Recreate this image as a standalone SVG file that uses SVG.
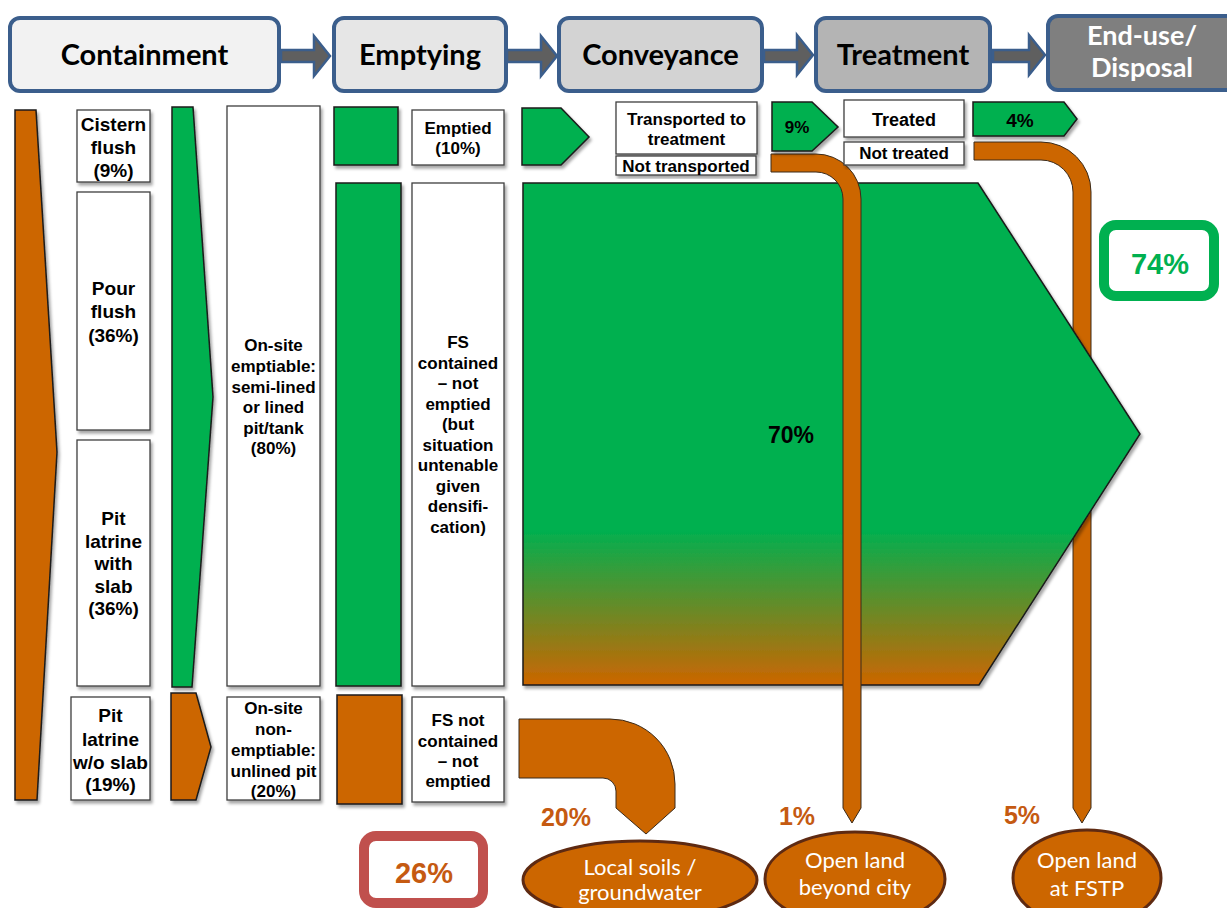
<svg xmlns="http://www.w3.org/2000/svg" width="1227" height="908" viewBox="0 0 1227 908">
<defs>
<filter id="sh" x="-10%" y="-10%" width="130%" height="130%"><feDropShadow dx="2" dy="3" stdDeviation="1.5" flood-color="#000" flood-opacity="0.35"/></filter>
<linearGradient id="grad" x1="0" y1="0" x2="0" y2="1"><stop offset="0.69" stop-color="#00B050"/><stop offset="1" stop-color="#CC6600"/></linearGradient>
</defs>
<style>
.hdr{stroke:#3B5E8C;stroke-width:4}
.ht{font-family:Lato,'Open Sans',sans-serif;font-weight:bold;font-size:29px;text-anchor:middle;fill:#000}
.ht2{font-family:Lato,'Open Sans',sans-serif;font-weight:bold;font-size:27px;text-anchor:middle;fill:#fff}
.harr{fill:#5F5F5F;stroke:#3B5E8C;stroke-width:2.5}
.box{fill:#fff;stroke:#3F3F3F;stroke-width:1.3}
.g{fill:#00B050;stroke:#1a1a1a;stroke-width:1.5}
.o{fill:#CC6600;stroke:#1a1a1a;stroke-width:1.5}
.t{font-family:'Liberation Sans',Arial,sans-serif;font-weight:bold;text-anchor:middle;fill:#000}
.s19{font-size:19px}
.s17{font-size:17px}
.pipe{fill:#CC6600;stroke:#3a2a1a;stroke-width:1}
.pct{font-family:'Liberation Sans',Arial,sans-serif;font-weight:bold;font-size:25px;fill:#C55A11;text-anchor:middle}
.ell{fill:#CC6600;stroke:#5E2A12;stroke-width:3}
.et{font-family:Lato,'Open Sans',sans-serif;font-size:22px;fill:#fff;text-anchor:middle}
</style>

<!-- Header -->
<g id="h-containment"><rect class="hdr" x="10" y="18" width="269" height="73" rx="10" fill="#F2F2F2"/><text class="ht" x="144.5" y="65">Containment</text></g>
<g id="h-emptying"><rect class="hdr" x="334" y="18" width="172" height="73" rx="10" fill="#E6E6E6"/><text class="ht" x="420" y="65">Emptying</text></g>
<g id="h-conveyance"><rect class="hdr" x="559" y="18" width="203" height="73" rx="10" fill="#D3D3D3"/><text class="ht" x="660.5" y="65">Conveyance</text></g>
<g id="h-treatment"><rect class="hdr" x="816" y="18" width="174" height="73" rx="10" fill="#B4B4B4"/><text class="ht" x="903" y="65">Treatment</text></g>
<g id="h-enduse"><rect class="hdr" x="1048" y="16" width="190" height="74" rx="10" fill="#7F7F7F"/><text class="ht2" x="1142" y="45">End-use/</text><text class="ht2" x="1142" y="77">Disposal</text></g>

<g id="connectors">
<polygon class="harr" points="281,50 314,50 314,36 330,56 314,76 314,62 281,62"/>
<polygon class="harr" points="507,50 541,50 541,36 557,56 541,76 541,62 507,62"/>
<polygon class="harr" points="764,50 797,50 797,35 813,55 797,75 797,62 764,62"/>
<polygon class="harr" points="993,50 1029,50 1029,35 1045,55 1029,75 1029,62 993,62"/>
</g>

<!-- Column 1 -->
<g id="flow-total"><polygon class="o" filter="url(#sh)" points="15,110 36,110 57,452 37,800 15,800"/></g>

<!-- Column 2 -->
<g id="cistern"><rect class="box" filter="url(#sh)" x="77" y="110" width="73" height="72"/>
<text class="t s19" x="113.5" y="130.5">Cistern</text><text class="t s19" x="113.5" y="153.5">flush</text><text class="t s19" x="113.5" y="176.5">(9%)</text></g>
<g id="pour"><rect class="box" filter="url(#sh)" x="77" y="192" width="73" height="238"/>
<text class="t s19" x="113.5" y="294.5">Pour</text><text class="t s19" x="113.5" y="318">flush</text><text class="t s19" x="113.5" y="341.5">(36%)</text></g>
<g id="pitslab"><rect class="box" filter="url(#sh)" x="77" y="440" width="73" height="246"/>
<text class="t s19" x="113.5" y="524.5">Pit</text><text class="t s19" x="113.5" y="547.5">latrine</text><text class="t s19" x="113.5" y="569.5">with</text><text class="t s19" x="113.5" y="592.5">slab</text><text class="t s19" x="113.5" y="614.5">(36%)</text></g>
<g id="pitnoslab"><rect class="box" filter="url(#sh)" x="71" y="697" width="79" height="103"/>
<text class="t s19" x="110.5" y="721.5">Pit</text><text class="t s19" x="110.5" y="745.5">latrine</text><text class="t s19" x="110.5" y="768.5">w/o slab</text><text class="t s19" x="110.5" y="790.5">(19%)</text></g>

<!-- Column 3 -->
<g id="flow-emptiable"><polygon class="g" filter="url(#sh)" points="172,107 193,107 213,397 192,687 172,687"/></g>
<g id="flow-nonemptiable"><polygon class="o" filter="url(#sh)" points="171,693 196,693 211,747 196,800 171,800"/></g>

<!-- Column 4 -->
<g id="emptiable"><rect class="box" filter="url(#sh)" x="227" y="106" width="93" height="580"/>
<text class="t s17" x="273.5" y="351">On-site</text><text class="t s17" x="273.5" y="372">emptiable:</text><text class="t s17" x="273.5" y="393">semi-lined</text><text class="t s17" x="273.5" y="413">or lined</text><text class="t s17" x="273.5" y="434">pit/tank</text><text class="t s17" x="273.5" y="454">(80%)</text></g>
<g id="nonemptiable"><rect class="box" filter="url(#sh)" x="227" y="697" width="93" height="103"/>
<text class="t s17" x="273.5" y="714">On-site</text><text class="t s17" x="273.5" y="735">non-</text><text class="t s17" x="273.5" y="756">emptiable:</text><text class="t s17" x="273.5" y="777">unlined pit</text><text class="t s17" x="273.5" y="797">(20%)</text></g>

<!-- Column 5 -->
<g id="bar-emptied"><rect class="g" filter="url(#sh)" x="334" y="107" width="64" height="58"/></g>
<g id="bar-contained"><rect class="g" filter="url(#sh)" x="336" y="183" width="65" height="503"/></g>
<g id="bar-notcontained"><rect class="o" filter="url(#sh)" x="337" y="695" width="65" height="109"/></g>

<!-- Column 6 -->
<g id="emptied"><rect class="box" filter="url(#sh)" x="412" y="110" width="92" height="55"/>
<text class="t s17" x="458" y="134">Emptied</text><text class="t s17" x="458" y="154">(10%)</text></g>
<g id="fs-contained"><rect class="box" filter="url(#sh)" x="412" y="183" width="92" height="503"/>
<text class="t s17" x="458" y="348">FS</text><text class="t s17" x="458" y="369">contained</text><text class="t s17" x="458" y="389">– not</text><text class="t s17" x="458" y="410">emptied</text><text class="t s17" x="458" y="430">(but</text><text class="t s17" x="458" y="451">situation</text><text class="t s17" x="458" y="471">untenable</text><text class="t s17" x="458" y="492">given</text><text class="t s17" x="458" y="512">densifi-</text><text class="t s17" x="458" y="533">cation)</text></g>
<g id="fs-notcontained"><rect class="box" filter="url(#sh)" x="412" y="697" width="92" height="105"/>
<text class="t s17" x="458" y="726">FS not</text><text class="t s17" x="458" y="747">contained</text><text class="t s17" x="458" y="767">– not</text><text class="t s17" x="458" y="787">emptied</text></g>

<!-- Conveyance / treatment -->
<g id="flow-emptied"><polygon class="g" filter="url(#sh)" points="522,108 561,108 589,137 561,165 522,165"/></g>
<g id="pipe-right"><path class="pipe" d="M974,142 H1041 A50,50 0 0 1 1091,192 V808 L1082,823 L1073,808 V192 A32,32 0 0 0 1041,160 H974 Z"/></g>
<g id="flow-70"><polygon filter="url(#sh)" fill="url(#grad)" stroke="#1a1a1a" stroke-width="1.5" points="523,183 978,183 1140,434 979,685 523,685"/>
<text class="t" style="font-size:23px" x="791" y="443">70%</text></g>
<g id="pipe-left"><path class="pipe" d="M771,154 H816 A45,45 0 0 1 861,199 V808 L852,823 L843,808 V199 A27,27 0 0 0 816,172 H771 Z"/></g>
<g id="transported"><rect class="box" filter="url(#sh)" x="616" y="102" width="141" height="52"/>
<text class="t s17" x="686.5" y="125">Transported to</text><text class="t s17" x="686.5" y="145">treatment</text></g>
<g id="not-transported"><rect class="box" filter="url(#sh)" x="616" y="156" width="140" height="19"/>
<text class="t s17" x="686" y="172">Not transported</text></g>
<g id="flow-9"><polygon class="g" filter="url(#sh)" points="772,102 812,102 838,127 812,151 772,151"/>
<text class="t s17" x="797" y="133">9%</text></g>
<g id="treated"><rect class="box" filter="url(#sh)" x="844" y="100" width="120" height="37"/>
<text class="t" style="font-size:18px" x="904" y="125.5">Treated</text></g>
<g id="not-treated"><rect class="box" filter="url(#sh)" x="844" y="142" width="120" height="23"/>
<text class="t s17" x="904" y="159">Not treated</text></g>
<g id="flow-4"><polygon class="g" filter="url(#sh)" points="973,102 1064,102 1077,119 1064,136 973,136"/>
<text class="t s19" x="1020" y="127">4%</text></g>

<!-- Bottom flow -->
<g id="pipe-soil"><path class="pipe" d="M519,719 H610 A65,65 0 0 1 675,784 V808 L646,834 L616,808 V791 A13,13 0 0 0 603,778 H519 Z"/></g>

<g id="pcts"><text class="pct" x="566" y="826">20%</text><text class="pct" x="797" y="825">1%</text><text class="pct" x="1022" y="824">5%</text></g>

<g id="safe-74"><rect x="1104" y="225" width="110" height="71" rx="12" fill="#fff" stroke="#00B050" stroke-width="10"/>
<text class="t" style="font-size:29px;fill:#00B050" x="1160" y="273.5">74%</text></g>
<g id="unsafe-26"><rect x="364" y="836" width="119" height="67" rx="12" fill="#fff" stroke="#C0504D" stroke-width="10"/>
<text class="t" style="font-size:29px;fill:#C55A11" x="424" y="882.5">26%</text></g>

<g id="local-soils"><ellipse class="ell" cx="640" cy="880" rx="117" ry="39"/>
<text class="et" x="640" y="875">Local soils /</text><text class="et" x="640" y="900">groundwater</text></g>
<g id="open-beyond"><ellipse class="ell" cx="855" cy="879" rx="90" ry="47"/>
<text class="et" x="855" y="868">Open land</text><text class="et" x="855" y="895">beyond city</text></g>
<g id="open-fstp"><ellipse class="ell" cx="1087" cy="878" rx="74" ry="48"/>
<text class="et" x="1087" y="868">Open land</text><text class="et" x="1087" y="896">at FSTP</text></g>
</svg>
